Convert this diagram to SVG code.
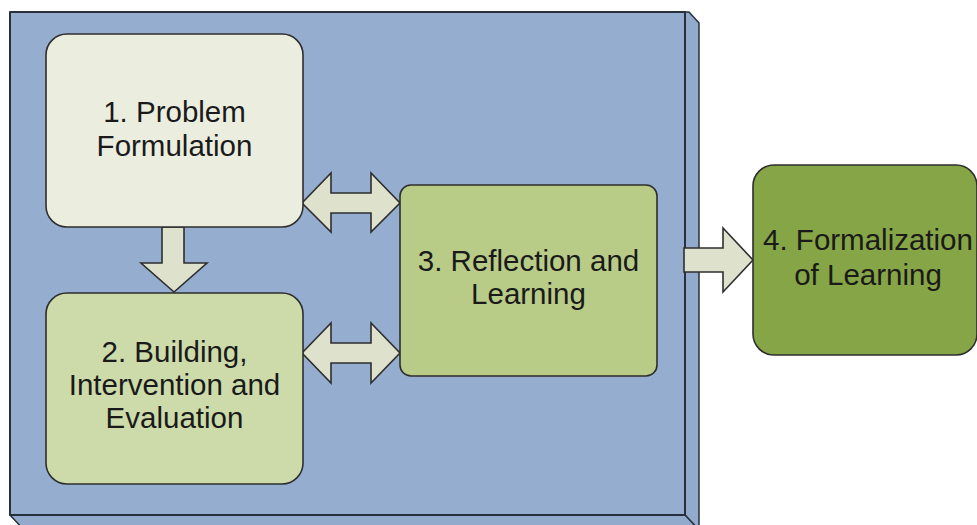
<svg xmlns="http://www.w3.org/2000/svg" width="977" height="525" viewBox="0 0 977 525">
  <style>
    .panel { fill: #95adce; stroke: #27303c; stroke-width: 2; stroke-linejoin: round; }
    .panel-side { fill: #92abcc; stroke: #27303c; stroke-width: 1.5; stroke-linejoin: round; }
    .box { stroke: #2e2e2e; stroke-width: 1.6; }
    .arrow { fill: #dee2cc; stroke: #2e2e2e; stroke-width: 1.6; stroke-linejoin: miter; }
    .label { font-family: "Liberation Sans", Arial, sans-serif; font-size: 29.5px; fill: #1a1a1a; text-anchor: middle; }
  </style>

  <!-- background -->
  <rect width="977" height="525" fill="#ffffff"/>

  <!-- 3D container panel -->
  <g id="panel">
    <polygon class="panel-side" points="685,12 689,12 699,23 699,530 685,515"/>
    <polygon class="panel-side" points="10,515 685,515 699,530 24,530"/>
    <rect class="panel" x="10" y="12" width="675" height="503"/>
  </g>

  <!-- connectors -->
  <g id="connectors">
    <!-- 1 -> 2 -->
    <polygon class="arrow" points="162,227 184,227 184,263 207,263 174,292 141,263 162,263"/>
    <!-- 1 <-> 3 -->
    <polygon class="arrow" points="302,203 331,173 331,193 371,193 371,173 400,203 371,232 371,213 331,213 331,232"/>
    <!-- 2 <-> 3 -->
    <polygon class="arrow" points="302,353 331,323 331,343 371,343 371,323 400,353 371,383 371,363 331,363 331,383"/>
    <!-- 3 -> 4 -->
    <polygon class="arrow" points="684,248 723,248 723,228 753,260 723,292 723,272 684,272"/>
  </g>

  <g id="node-1">
    <rect class="box" x="46" y="34" width="257" height="193" rx="21" fill="#ebeedf"/>
    <text class="label" x="174.5" y="122">1. Problem</text>
    <text class="label" x="174.5" y="156">Formulation</text>
  </g>

  <g id="node-2">
    <rect class="box" x="46" y="293" width="257" height="191" rx="21" fill="#ccdba9"/>
    <text class="label" x="174.5" y="362">2. Building,</text>
    <text class="label" x="174.5" y="395">Intervention and</text>
    <text class="label" x="174.5" y="428">Evaluation</text>
  </g>

  <g id="node-3">
    <rect class="box" x="400" y="185" width="257" height="191" rx="11" fill="#b8cb87"/>
    <text class="label" x="528.5" y="271">3. Reflection and</text>
    <text class="label" x="528.5" y="304">Learning</text>
  </g>

  <g id="node-4">
    <rect class="box" x="753" y="165" width="224" height="190" rx="21" fill="#86a546"/>
    <text class="label" x="868" y="250">4. Formalization</text>
    <text class="label" x="868" y="285">of Learning</text>
  </g>
</svg>
